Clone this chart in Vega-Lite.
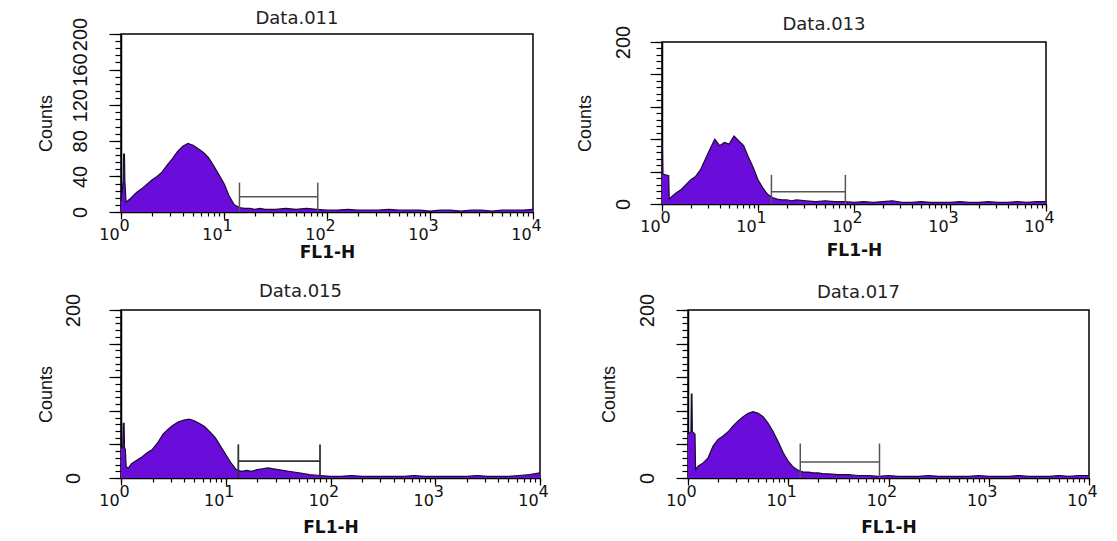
{
  "$schema": "https://vega.github.io/schema/vega-lite/v6.json",
  "padding": {"left": 36, "top": 9, "right": 5, "bottom": 3},
  "background": "white",
  "config": {
    "view": {"stroke": "black", "strokeWidth": 1.5},
    "font": "DejaVu Sans",
    "title": {"font": "DejaVu Sans", "fontSize": 18, "fontWeight": "normal", "color": "#222", "baseline": "alphabetic", "frame": "group", "anchor": "middle", "dx": -30},
    "axis": {"grid": false, "domainColor": "black", "domainWidth": 1.5, "tickColor": "black", "tickWidth": 1.2, "labelColor": "#111", "titleColor": "#111", "titleFontWeight": "normal", "labelOverlap": false, "labelFlush": false, "labelBound": false},
    "axisX": {"labelFont": "DejaVu Sans", "labelFontSize": 16, "labelBaseline": "top", "labelAlign": "center", "titleFont": "DejaVu Sans", "titleFontSize": 17, "titleFontWeight": "bold"},
    "axisY": {"labelFont": "Liberation Sans", "labelFontSize": 20, "labelAngle": 270, "labelAlign": "center", "labelBaseline": "alphabetic", "titleFont": "Liberation Sans", "titleFontSize": 18}
  },
  "datasets": {
    "d011": [{"x":1,"y":12},{"x":1.05,"y":35},{"x":1.06,"y":65},{"x":1.08,"y":65},{"x":1.09,"y":35},{"x":1.12,"y":11},{"x":1.259,"y":16},{"x":1.413,"y":22},{"x":1.585,"y":26},{"x":1.778,"y":31},{"x":1.995,"y":36},{"x":2.239,"y":40},{"x":2.512,"y":45},{"x":2.818,"y":53},{"x":3.162,"y":60},{"x":3.548,"y":68},{"x":3.981,"y":74},{"x":4.467,"y":77},{"x":5.012,"y":75},{"x":5.623,"y":71},{"x":6.31,"y":67},{"x":7.079,"y":61},{"x":7.943,"y":52},{"x":8.913,"y":42},{"x":10,"y":32},{"x":11.22,"y":18},{"x":12.59,"y":8},{"x":14.13,"y":5},{"x":15.85,"y":4},{"x":17.78,"y":4},{"x":19.95,"y":3},{"x":22.39,"y":4},{"x":25.12,"y":3},{"x":31.62,"y":3},{"x":39.81,"y":4},{"x":50.12,"y":3},{"x":63.1,"y":4},{"x":79.43,"y":3},{"x":100,"y":2},{"x":125.9,"y":2},{"x":158.5,"y":3},{"x":199.5,"y":2},{"x":251.2,"y":2},{"x":316.2,"y":2},{"x":398.1,"y":3},{"x":501.2,"y":2},{"x":631,"y":2},{"x":794.3,"y":2},{"x":1000,"y":1},{"x":1259,"y":2},{"x":1585,"y":2},{"x":1995,"y":1},{"x":2512,"y":2},{"x":3162,"y":2},{"x":3981,"y":1},{"x":5012,"y":2},{"x":6310,"y":2},{"x":7943,"y":2},{"x":10000,"y":3}],
    "d013": [{"x":1,"y":72},{"x":1.01,"y":72},{"x":1.02,"y":37},{"x":1.175,"y":35},{"x":1.189,"y":6},{"x":1.259,"y":9},{"x":1.413,"y":14},{"x":1.585,"y":18},{"x":1.778,"y":24},{"x":1.995,"y":30},{"x":2.239,"y":34},{"x":2.512,"y":42},{"x":2.818,"y":55},{"x":3.162,"y":68},{"x":3.548,"y":80},{"x":3.981,"y":72},{"x":4.467,"y":76},{"x":5.012,"y":74},{"x":5.623,"y":84},{"x":6.31,"y":78},{"x":7.079,"y":72},{"x":7.943,"y":58},{"x":8.913,"y":45},{"x":10,"y":30},{"x":11.22,"y":20},{"x":12.59,"y":12},{"x":14.13,"y":8},{"x":15.85,"y":6},{"x":17.78,"y":5},{"x":19.95,"y":5},{"x":22.39,"y":4},{"x":25.12,"y":5},{"x":31.62,"y":4},{"x":39.81,"y":3},{"x":50.12,"y":4},{"x":63.1,"y":3},{"x":79.43,"y":3},{"x":100,"y":2},{"x":125.9,"y":3},{"x":158.5,"y":2},{"x":199.5,"y":3},{"x":251.2,"y":4},{"x":316.2,"y":2},{"x":398.1,"y":2},{"x":501.2,"y":3},{"x":631,"y":2},{"x":794.3,"y":2},{"x":1000,"y":2},{"x":1259,"y":3},{"x":1585,"y":2},{"x":1995,"y":2},{"x":2512,"y":3},{"x":3162,"y":2},{"x":3981,"y":2},{"x":5012,"y":3},{"x":6310,"y":2},{"x":7943,"y":3},{"x":10000,"y":3}],
    "d015": [{"x":1,"y":36},{"x":1.04,"y":36},{"x":1.05,"y":65},{"x":1.07,"y":65},{"x":1.08,"y":36},{"x":1.1,"y":34},{"x":1.12,"y":13},{"x":1.18,"y":12},{"x":1.259,"y":17},{"x":1.413,"y":21},{"x":1.585,"y":25},{"x":1.778,"y":30},{"x":1.995,"y":34},{"x":2.239,"y":42},{"x":2.512,"y":52},{"x":2.818,"y":58},{"x":3.162,"y":63},{"x":3.548,"y":67},{"x":3.981,"y":69},{"x":4.467,"y":70},{"x":5.012,"y":68},{"x":5.623,"y":65},{"x":6.31,"y":61},{"x":7.079,"y":55},{"x":7.943,"y":48},{"x":8.913,"y":38},{"x":10,"y":28},{"x":11.22,"y":18},{"x":12.59,"y":10},{"x":14.13,"y":8},{"x":15.85,"y":9},{"x":17.78,"y":8},{"x":19.95,"y":10},{"x":22.39,"y":11},{"x":25.12,"y":12},{"x":31.62,"y":10},{"x":39.81,"y":8},{"x":50.12,"y":6},{"x":63.1,"y":4},{"x":79.43,"y":3},{"x":100,"y":2},{"x":125.9,"y":2},{"x":158.5,"y":3},{"x":199.5,"y":2},{"x":251.2,"y":2},{"x":316.2,"y":2},{"x":398.1,"y":2},{"x":501.2,"y":2},{"x":631,"y":3},{"x":794.3,"y":2},{"x":1000,"y":2},{"x":1259,"y":2},{"x":1585,"y":2},{"x":1995,"y":2},{"x":2512,"y":3},{"x":3162,"y":2},{"x":3981,"y":2},{"x":5012,"y":2},{"x":6310,"y":3},{"x":7943,"y":4},{"x":10000,"y":6}],
    "d017": [{"x":1,"y":52},{"x":1.07,"y":55},{"x":1.08,"y":100},{"x":1.095,"y":100},{"x":1.105,"y":55},{"x":1.175,"y":52},{"x":1.189,"y":10},{"x":1.259,"y":14},{"x":1.413,"y":18},{"x":1.585,"y":24},{"x":1.778,"y":38},{"x":1.995,"y":46},{"x":2.239,"y":50},{"x":2.512,"y":55},{"x":2.818,"y":62},{"x":3.162,"y":68},{"x":3.548,"y":73},{"x":3.981,"y":77},{"x":4.467,"y":79},{"x":5.012,"y":77},{"x":5.623,"y":73},{"x":6.31,"y":65},{"x":7.079,"y":55},{"x":7.943,"y":43},{"x":8.913,"y":30},{"x":10,"y":20},{"x":11.22,"y":13},{"x":12.59,"y":9},{"x":14.13,"y":7},{"x":15.85,"y":7},{"x":17.78,"y":6},{"x":19.95,"y":6},{"x":22.39,"y":5},{"x":25.12,"y":5},{"x":31.62,"y":4},{"x":39.81,"y":4},{"x":50.12,"y":3},{"x":63.1,"y":3},{"x":79.43,"y":2},{"x":100,"y":3},{"x":125.9,"y":2},{"x":158.5,"y":2},{"x":199.5,"y":2},{"x":251.2,"y":3},{"x":316.2,"y":2},{"x":398.1,"y":2},{"x":501.2,"y":2},{"x":631,"y":2},{"x":794.3,"y":3},{"x":1000,"y":2},{"x":1259,"y":2},{"x":1585,"y":2},{"x":1995,"y":3},{"x":2512,"y":2},{"x":3162,"y":2},{"x":3981,"y":2},{"x":5012,"y":3},{"x":6310,"y":2},{"x":7943,"y":3},{"x":10000,"y":3}],
    "g011": [{"x":14.13,"x2":81.3,"y":17,"y2":17},{"x":14.13,"x2":14.13,"y":0,"y2":33},{"x":81.3,"x2":81.3,"y":0,"y2":33}],
    "g013": [{"x":13.8,"x2":81.3,"y":15,"y2":15},{"x":13.8,"x2":13.8,"y":0,"y2":36},{"x":81.3,"x2":81.3,"y":0,"y2":36}],
    "g015": [{"x":13.18,"x2":79.4,"y":20,"y2":20},{"x":13.18,"x2":13.18,"y":0,"y2":40},{"x":79.4,"x2":79.4,"y":0,"y2":40}],
    "g017": [{"x":13.18,"x2":81.3,"y":19,"y2":19},{"x":13.18,"x2":13.18,"y":0,"y2":41},{"x":81.3,"x2":81.3,"y":0,"y2":41}]
  },
  "spacing": 21,
  "vconcat": [
    {
      "hconcat": [
        {
          "title": {"text": "Data.011", "offset": -11, "frame": "group"},
          "width": 412, "height": 178,
          "resolve": {"axis": {"x": "independent", "y": "independent"}},
          "layer": [
            {"data": {"name": "d011"}, "mark": {"type": "area", "color": "#6a0ddb", "opacity": 1, "line": {"color": "#1a0a33", "strokeWidth": 1.2}},
             "encoding": {
               "x": {"field": "x", "type": "quantitative", "scale": {"type": "log", "domain": [1, 10000], "nice": false},
                     "axis": {"orient": "bottom", "values": [1,2,3,4,5,6,7,8,9,10,20,30,40,50,60,70,80,90,100,200,300,400,500,600,700,800,900,1000,2000,3000,4000,5000,6000,7000,8000,9000,10000], "tickSize": 4, "labelExpr": "indexof([1,10,100,1000,10000], datum.value) >= 0 ? '10' : ''", "labelOffset": -12, "labelPadding": 10, "title": "FL1-H", "titlePadding": 2}},
               "y": {"field": "y", "type": "quantitative", "scale": {"domain": [0, 200], "nice": false},
                     "axis": {"orient": "left", "values": [0,40,80,120,160,200], "tickSize": 12, "labelPadding": 23, "title": "Counts", "titlePadding": 15}}
             }},
            {"data": {"name": "g011"}, "mark": {"type": "rule", "color": "#555", "strokeWidth": 1.5},
             "encoding": {
               "x": {"field": "x", "type": "quantitative", "axis": {"orient": "bottom", "values": [1,10,100,1000,10000], "tickSize": 7, "domain": false, "labelExpr": "datum.value === 1 ? '0' : datum.value === 10 ? '1' : datum.value === 100 ? '2' : datum.value === 1000 ? '3' : '4'", "labelOffset": 3, "labelPadding": -2, "title": null}},
               "x2": {"field": "x2"},
               "y": {"field": "y", "type": "quantitative", "axis": {"orient": "left", "values": [0,8,16,24,32,40,48,56,64,72,80,88,96,104,112,120,128,136,144,152,160,168,176,184,192,200], "tickSize": 6, "labels": false, "domain": false, "title": null}},
               "y2": {"field": "y2"}}}
          ]
        },
        {
          "title": {"text": "Data.013", "offset": -9, "frame": "group"},
          "width": 384, "height": 162,
          "resolve": {"axis": {"x": "independent", "y": "independent"}},
          "layer": [
            {"data": {"name": "d013"}, "mark": {"type": "area", "color": "#6a0ddb", "opacity": 1, "line": {"color": "#1a0a33", "strokeWidth": 1.2}},
             "encoding": {
               "x": {"field": "x", "type": "quantitative", "scale": {"type": "log", "domain": [1, 10000], "nice": false},
                     "axis": {"orient": "bottom", "values": [1,2,3,4,5,6,7,8,9,10,20,30,40,50,60,70,80,90,100,200,300,400,500,600,700,800,900,1000,2000,3000,4000,5000,6000,7000,8000,9000,10000], "tickSize": 4, "labelExpr": "indexof([1,10,100,1000,10000], datum.value) >= 0 ? '10' : ''", "labelOffset": -12, "labelPadding": 10, "title": "FL1-H", "titlePadding": 8}},
               "y": {"field": "y", "type": "quantitative", "scale": {"domain": [0, 200], "nice": false},
                     "axis": {"orient": "left", "values": [0,40,80,120,160,200], "tickSize": 12, "labelExpr": "datum.value === 0 || datum.value === 200 ? datum.label : ''", "labelPadding": 21, "title": "Counts", "titlePadding": 19}}
             }},
            {"data": {"name": "g013"}, "mark": {"type": "rule", "color": "#555", "strokeWidth": 1.5},
             "encoding": {
               "x": {"field": "x", "type": "quantitative", "axis": {"orient": "bottom", "values": [1,10,100,1000,10000], "tickSize": 7, "domain": false, "labelExpr": "datum.value === 1 ? '0' : datum.value === 10 ? '1' : datum.value === 100 ? '2' : datum.value === 1000 ? '3' : '4'", "labelOffset": 3, "labelPadding": -2, "title": null}},
               "x2": {"field": "x2"},
               "y": {"field": "y", "type": "quantitative", "axis": {"orient": "left", "values": [0,8,16,24,32,40,48,56,64,72,80,88,96,104,112,120,128,136,144,152,160,168,176,184,192,200], "tickSize": 6, "labels": false, "domain": false, "title": null}},
               "y2": {"field": "y2"}}}
          ]
        }
      ],
      "spacing": 129, "bounds": "flush", "center": true
    },
    {
      "hconcat": [
        {
          "title": {"text": "Data.015", "offset": -8, "frame": "group"},
          "width": 419, "height": 168,
          "resolve": {"axis": {"x": "independent", "y": "independent"}},
          "layer": [
            {"data": {"name": "d015"}, "mark": {"type": "area", "color": "#6a0ddb", "opacity": 1, "line": {"color": "#1a0a33", "strokeWidth": 1.2}},
             "encoding": {
               "x": {"field": "x", "type": "quantitative", "scale": {"type": "log", "domain": [1, 10000], "nice": false},
                     "axis": {"orient": "bottom", "values": [1,2,3,4,5,6,7,8,9,10,20,30,40,50,60,70,80,90,100,200,300,400,500,600,700,800,900,1000,2000,3000,4000,5000,6000,7000,8000,9000,10000], "tickSize": 4, "labelExpr": "indexof([1,10,100,1000,10000], datum.value) >= 0 ? '10' : ''", "labelOffset": -12, "labelPadding": 10, "title": "FL1-H", "titlePadding": 11}},
               "y": {"field": "y", "type": "quantitative", "scale": {"domain": [0, 200], "nice": false},
                     "axis": {"orient": "left", "values": [0,40,80,120,160,200], "tickSize": 12, "labelExpr": "datum.value === 0 || datum.value === 200 ? datum.label : ''", "labelPadding": 30, "title": "Counts", "titlePadding": 8}}
             }},
            {"data": {"name": "g015"}, "mark": {"type": "rule", "color": "#333", "strokeWidth": 1.8},
             "encoding": {
               "x": {"field": "x", "type": "quantitative", "axis": {"orient": "bottom", "values": [1,10,100,1000,10000], "tickSize": 7, "domain": false, "labelExpr": "datum.value === 1 ? '0' : datum.value === 10 ? '1' : datum.value === 100 ? '2' : datum.value === 1000 ? '3' : '4'", "labelOffset": 3, "labelPadding": -2, "title": null}},
               "x2": {"field": "x2"},
               "y": {"field": "y", "type": "quantitative", "axis": {"orient": "left", "values": [0,8,16,24,32,40,48,56,64,72,80,88,96,104,112,120,128,136,144,152,160,168,176,184,192,200], "tickSize": 6, "labels": false, "domain": false, "title": null}},
               "y2": {"field": "y2"}}}
          ]
        },
        {
          "title": {"text": "Data.017", "offset": -9, "frame": "group"},
          "width": 401, "height": 168,
          "resolve": {"axis": {"x": "independent", "y": "independent"}},
          "layer": [
            {"data": {"name": "d017"}, "mark": {"type": "area", "color": "#6a0ddb", "opacity": 1, "line": {"color": "#1a0a33", "strokeWidth": 1.2}},
             "encoding": {
               "x": {"field": "x", "type": "quantitative", "scale": {"type": "log", "domain": [1, 10000], "nice": false},
                     "axis": {"orient": "bottom", "values": [1,2,3,4,5,6,7,8,9,10,20,30,40,50,60,70,80,90,100,200,300,400,500,600,700,800,900,1000,2000,3000,4000,5000,6000,7000,8000,9000,10000], "tickSize": 4, "labelExpr": "indexof([1,10,100,1000,10000], datum.value) >= 0 ? '10' : ''", "labelOffset": -12, "labelPadding": 10, "title": "FL1-H", "titlePadding": 11}},
               "y": {"field": "y", "type": "quantitative", "scale": {"domain": [0, 200], "nice": false},
                     "axis": {"orient": "left", "values": [0,40,80,120,160,200], "tickSize": 12, "labelExpr": "datum.value === 0 || datum.value === 200 ? datum.label : ''", "labelPadding": 23, "title": "Counts", "titlePadding": 19}}
             }},
            {"data": {"name": "g017"}, "mark": {"type": "rule", "color": "#555", "strokeWidth": 1.5},
             "encoding": {
               "x": {"field": "x", "type": "quantitative", "axis": {"orient": "bottom", "values": [1,10,100,1000,10000], "tickSize": 7, "domain": false, "labelExpr": "datum.value === 1 ? '0' : datum.value === 10 ? '1' : datum.value === 100 ? '2' : datum.value === 1000 ? '3' : '4'", "labelOffset": 3, "labelPadding": -2, "title": null}},
               "x2": {"field": "x2"},
               "y": {"field": "y", "type": "quantitative", "axis": {"orient": "left", "values": [0,8,16,24,32,40,48,56,64,72,80,88,96,104,112,120,128,136,144,152,160,168,176,184,192,200], "tickSize": 6, "labels": false, "domain": false, "title": null}},
               "y2": {"field": "y2"}}}
          ]
        }
      ],
      "spacing": 148, "bounds": "flush", "center": true
    }
  ]
}
